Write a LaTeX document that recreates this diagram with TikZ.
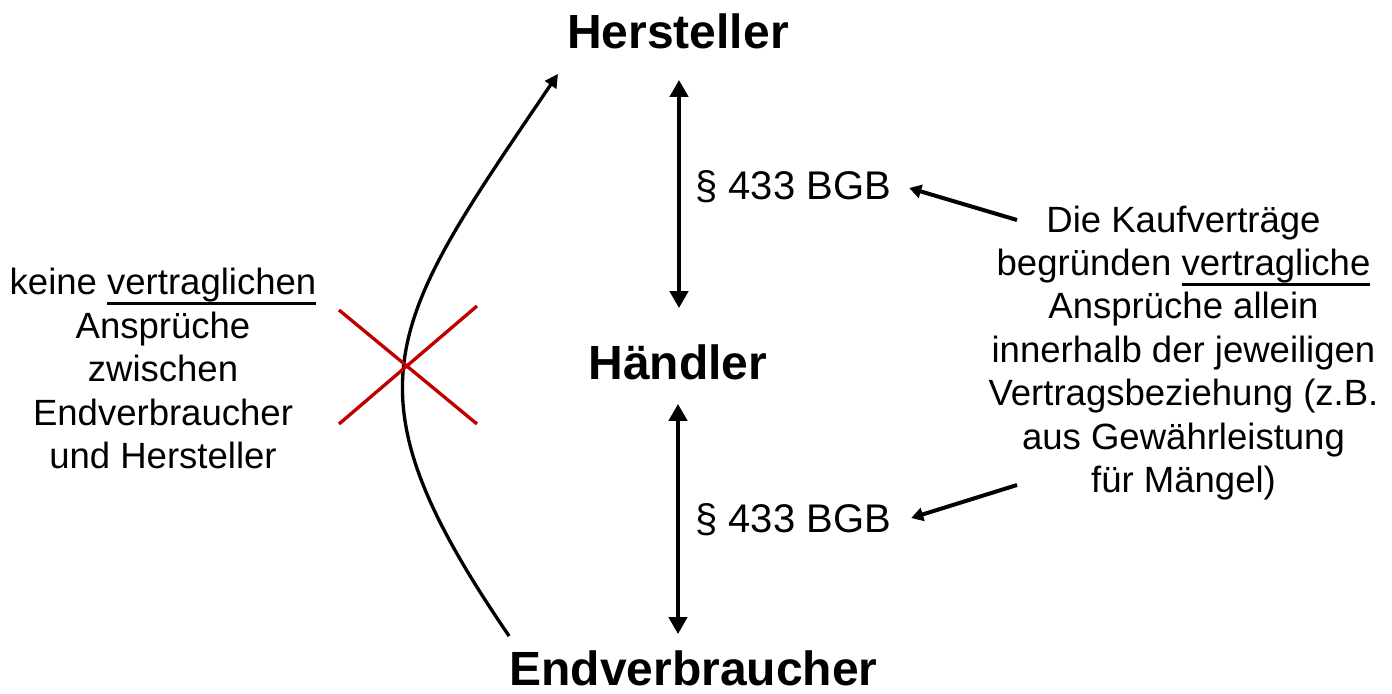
\documentclass[tikz,border=0pt]{standalone}
\usepackage{fontspec}
\setmainfont{Liberation Sans}
\usetikzlibrary{arrows.meta}
\definecolor{xred}{RGB}{192,0,0}
\newcommand\myul[1]{\setbox0\hbox{#1}\rlap{\raisebox{\dimexpr-\dp0-1.8pt\relax}{\rule{\wd0}{2.2pt}}}\box0}
\begin{document}
\begin{tikzpicture}[x=0.75pt,y=-0.75pt,
  title/.style={font=\fontsize{36}{43}\selectfont\bfseries, inner sep=0pt},
  para/.style={font=\fontsize{30}{36}\selectfont, inner sep=0pt},
  note/.style={font=\fontsize{27.4}{32.6}\selectfont, align=center, inner sep=0pt},
  dbl/.style={line width=3.3pt, {Triangle[width=13.5pt,length=12.75pt]}-{Triangle[width=13.5pt,length=12.75pt]}},
  ptr/.style={line width=3pt, -{Triangle[width=10pt,length=9pt]}},
  curv/.style={line width=2.5pt, -{Triangle[width=10pt,length=10pt]}},
  cross/.style={line width=2.5pt, draw=xred}]
\useasboundingbox (0,0) rectangle (1392,693);
% main parties
\node[title] (her) at (678,31) {Hersteller};
\node[title] (hae) at (678,362) {Händler};
\node[title] (endv) at (693.5,668) {Endverbraucher};
% contract labels
\node[para, anchor=west] (p1) at (695,187) {§ 433 BGB};
\node[para, anchor=west] (p2) at (695,520) {§ 433 BGB};
% explanations
\node[note] (info) at (1183.5,353) {Die Kaufverträge\\begründen \myul{vertragliche}\\Ansprüche allein\\innerhalb der jeweiligen\\Vertragsbeziehung (z.B.\\aus Gewährleistung\\für Mängel)};
\node[note] (left) at (163,368.5) {keine \myul{vertraglichen}\\Ansprüche\\zwischen\\Endverbraucher\\und Hersteller};
% contract arrows
\coordinate (e2) at (hae.south |- endv.north);
\draw[dbl] ([shift={(1,31)}]her.south) -- ([shift={(1,-36)}]hae.north);
\draw[dbl] ([shift={(0,24)}]hae.south) -- ([shift={(0,-16)}]e2);
% direct claim curve
\draw[curv] ([shift={(0,-14)}]endv.north west) .. controls (338,386) and (388,325) .. ([shift={(-9,25)}]her.south west);
% red cross
\draw[cross] (339,310) -- (477,424);
\draw[cross] (339,424) -- (477,306);
% pointers
\coordinate (s1) at (1017,220);
\coordinate (s2) at (1017,485);
\draw[ptr] (s1) -- ([shift={(18,1)}]p1.east);
\draw[ptr] (s2) -- ([shift={(20,-2)}]p2.east);
\end{tikzpicture}
\end{document}
